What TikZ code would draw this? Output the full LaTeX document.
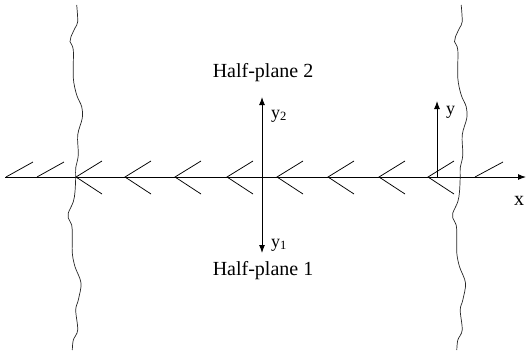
\documentclass[tikz,border=0pt]{standalone}
\usepackage{fontspec}
\setmainfont{Liberation Serif}
\usetikzlibrary{arrows.meta}
\begin{document}
\begin{tikzpicture}[x=1pt,y=-1pt,
  axis/.style={line width=1pt,-{Latex[length=8pt,width=6pt]}},
  hatch/.style={line width=0.75pt},
  wavy/.style={line width=0.7pt,black!85},
  lbl/.style={font=\fontsize{20}{24}\selectfont,inner sep=0pt},
  sym/.style={font=\fontsize{18}{20}\selectfont,inner sep=0pt,anchor=west}]
\useasboundingbox (0,0) rectangle (526,351);
% x axis
\coordinate (xs) at (5,177);
\coordinate (xe) at (526,177);
\draw[axis] (xs) -- (xe);
\node[lbl] (xl) at (519,201) {x};
% hatching: left slashes
\foreach \v [count=\i] in {6,37}{
  \coordinate (ls\i) at (\v,177);
  \coordinate (le\i) at (\v+27,162);
  \draw[hatch] (ls\i) -- (le\i);
}
% chevrons
\foreach \v [count=\i] in {76,125,175,227,277,328,379,428}{
  \coordinate (cv\i) at (\v,177);
  \coordinate (cu\i) at (\v+26,161);
  \coordinate (cd\i) at (\v+26,194);
  \draw[hatch] (cu\i) -- (cv\i) -- (cd\i);
}
% right slash
\coordinate (rs) at (475,177);
\coordinate (re) at (503,162);
\draw[hatch] (rs) -- (re);
% central y axes
\coordinate (O) at (262,177);
\coordinate (y2t) at (262,97);
\coordinate (y1t) at (262,253);
\draw[axis] (O) -- (y2t);
\draw[axis] (O) -- (y1t);
\node[sym] (y2) at (271,116) {y\textsubscript{2}};
\node[sym] (y1) at (271,245) {y\textsubscript{1}};
\node[lbl] (hp2) at (263,73) {Half-plane 2};
\node[lbl] (hp1) at (263,271) {Half-plane 1};
% right y axis
\coordinate (R) at (437,177);
\coordinate (Rt) at (437,101);
\draw[axis] (R) -- (Rt);
\node[sym] (yl) at (446,112) {y};
% wavy cut lines
\foreach \dx in {0,384.5}{
\draw[wavy,xshift=\dx] plot[smooth,tension=0.55] coordinates {
 (76.7,5) (77.7,21.7) (75,28) (71,36.7) (70,41.7) (73.3,50) (73.3,78)
 (76.7,95) (81.7,106.7) (82.3,118) (77.7,135) (78.3,155) (75.7,168)
 (75.7,177) (75,191.7) (73.3,201.7) (68.3,213) (68.3,218) (71.7,225)
 (72.3,235) (72.3,253) (75,266.7) (81,283) (78.3,300) (75.7,310)
 (77.7,330) (73.3,340) (72.3,350)};
}
\end{tikzpicture}
\end{document}
